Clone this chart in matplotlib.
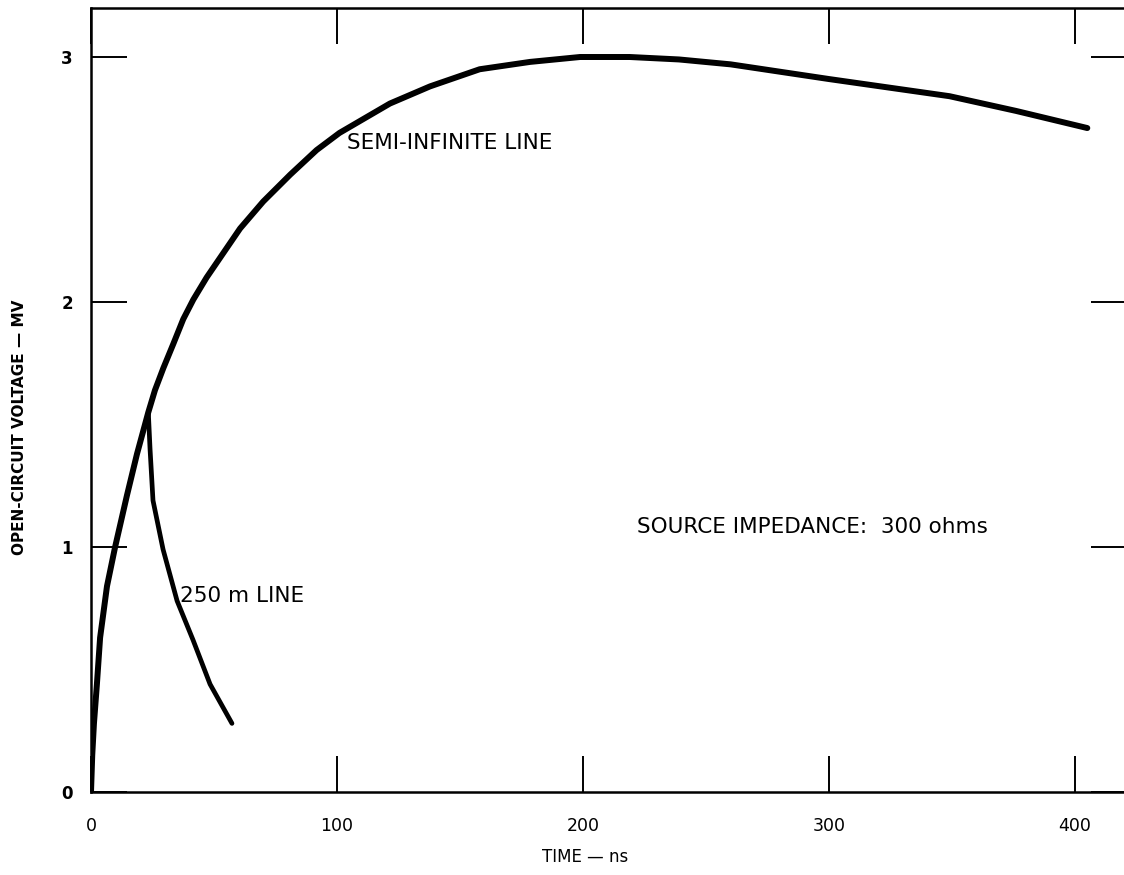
import matplotlib
matplotlib.use('Agg')
from matplotlib import pyplot as plt

# semi-infinite line (ns, MV)
t_semi = [0, 0.5, 1.2, 2.4, 3.7, 6.5, 9.8, 14.6, 18.7, 23.3, 26.0, 29.4, 33.5, 37.5, 41.6,
          47, 53.8, 60.6, 70, 81, 91.7, 101, 112.1, 121.5, 137.8, 158, 178.5, 198.8, 219,
          239, 260, 280, 300, 321, 349, 376, 405]
v_semi = [0, 0.15, 0.28, 0.44, 0.63, 0.84, 1.0, 1.21, 1.38, 1.55, 1.64, 1.73, 1.83, 1.93, 2.01,
          2.10, 2.20, 2.30, 2.41, 2.52, 2.62, 2.69, 2.755, 2.81, 2.88, 2.95, 2.98, 3.00, 3.00,
          2.99, 2.97, 2.94, 2.91, 2.88, 2.84, 2.78, 2.71]

# 250 m line, branches off at the cusp
t_250 = [23.3, 24, 25.2, 29.3, 35, 41.5, 48.4, 57.3]
v_250 = [1.55, 1.40, 1.19, 0.99, 0.78, 0.62, 0.44, 0.28]

xticks = [0, 100, 200, 300, 400]
yticks = [0, 1, 2, 3]

W, H = 1124, 875
fig = plt.figure(figsize=(W/100, H/100), dpi=100)
# axes box in pixels: left 91, top 8, bottom 792, right spine just past the edge
ax = fig.add_axes([91/W, 1 - 792/H, 1036/W, 784/H])

ax.plot(t_semi, v_semi, color='black', lw=4.3, solid_capstyle='round', solid_joinstyle='round')
ax.plot(t_250, v_250, color='black', lw=3.4, solid_capstyle='round', solid_joinstyle='round')

ax.set_xlim(0, 1036/2.46)
ax.set_ylim(0, 784/245)

for s in ax.spines.values():
    s.set_linewidth(1.8)

ax.set_xticks(xticks)
ax.set_yticks(yticks)
ax.tick_params(direction='in', length=26, width=1.4, top=True, right=True)
ax.tick_params(axis='x', pad=18, labelsize=12.5)
ax.tick_params(axis='y', pad=13, labelsize=12)
for lab in ax.get_yticklabels():
    lab.set_fontweight('bold')

ax.set_xlabel('TIME — ns', fontsize=12)
ax.xaxis.set_label_coords((585-91)/1036, (792-857)/784)
ax.xaxis.label.set_va('center')
ax.set_ylabel('OPEN-CIRCUIT VOLTAGE — MV', fontsize=11, fontweight='bold')
ax.yaxis.set_label_coords((20-91)/1036, (792-427)/784)
ax.yaxis.label.set_va('center')

ax.text(104, 2.65, 'SEMI-INFINITE LINE', fontsize=15.5, va='center', ha='left')
ax.text(36.2, 0.80, '250 m LINE', fontsize=15.5, va='center', ha='left')
ax.text(222, 1.08, 'SOURCE IMPEDANCE:  300 ohms', fontsize=15.5, va='center', ha='left')

plt.savefig('out.png', dpi=100)
